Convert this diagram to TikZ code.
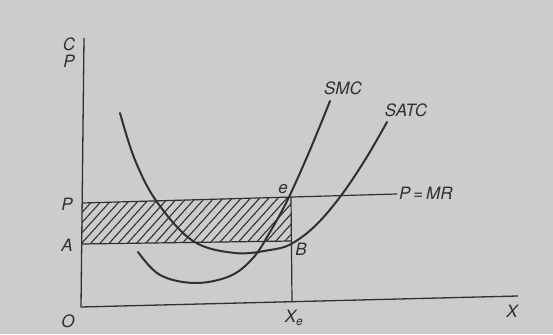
\documentclass[tikz,border=0pt]{standalone}
\usepackage{fontspec}
\setmainfont{TeX Gyre Heros}
\usetikzlibrary{patterns.meta}
\definecolor{paper}{RGB}{204,204,202}
\definecolor{ink}{RGB}{48,48,48}
\tikzset{
  axis/.style={draw=ink, line width=1.3pt},
  guide/.style={draw=ink, line width=1.2pt},
  curve/.style={draw=ink, line width=2pt, line cap=round},
  lbl/.style={text=ink, font=\fontsize{17}{19}\selectfont\itshape, inner sep=0pt},
}
\begin{document}
\begin{tikzpicture}[x=1pt,y=-1pt]
\fill[paper] (0,0) rectangle (553,334);
\useasboundingbox (0,0) rectangle (553,334);
% key points
\coordinate (ytop) at (84,38);
\coordinate (O) at (81,307);
\coordinate (xend) at (518,296);
\coordinate (Pl) at (82,203);
\coordinate (Pr) at (397,194);
\coordinate (e) at (291,197);
\coordinate (Al) at (82,244);
\coordinate (B) at (291,241);
\coordinate (Xe) at (292,302);
% hatched profit area
\path[pattern={Lines[angle=48,distance=6.8pt,line width=1.1pt]}, pattern color=ink]
  (Pl) -- (e) -- (B) -- (Al) -- cycle;
% axes
\draw[axis] (ytop) -- (O) -- (xend);
% price line, A line, Xe line
\draw[guide] (Pl) -- (Pr);
\draw[guide] (Al) -- (B);
\draw[guide] (e) -- (Xe);
% SATC
\draw[curve] plot[smooth, tension=0.6] coordinates {(120,113) (135,160) (157,202) (193,241) (235,253) (270,250) (291,244) (315,226) (340,197) (365,160) (387,122)};
% SMC
\draw[curve] plot[smooth, tension=0.6] coordinates {(138,252) (160,275) (195,283) (230,276) (253,258) (270,232) (288,199) (310,150) (330,101)};
% labels
\node[lbl] (lC) at (69,44) {C};
\node[lbl] (lP) at (69,61) {P};
\node[lbl] (lPp) at (67,204) {P};
\node[lbl] (lA) at (67,245) {A};
\node[lbl] (lO) at (68,321) {O};
\node[lbl] (lX) at (512,311) {X};
\node[lbl] (lXe) at (294,318) {X\textsubscript{e}};
\node[lbl] (lB) at (301,249) {B};
\node[lbl] (le) at (283,189) {e};
\node[lbl] (lSMC) at (343,88) {SMC};
\node[lbl] (lSATC) at (406,110) {SATC};
\node[lbl, anchor=west] (lPMR) at (399,193) {P\,=\,MR};
\end{tikzpicture}
\end{document}
